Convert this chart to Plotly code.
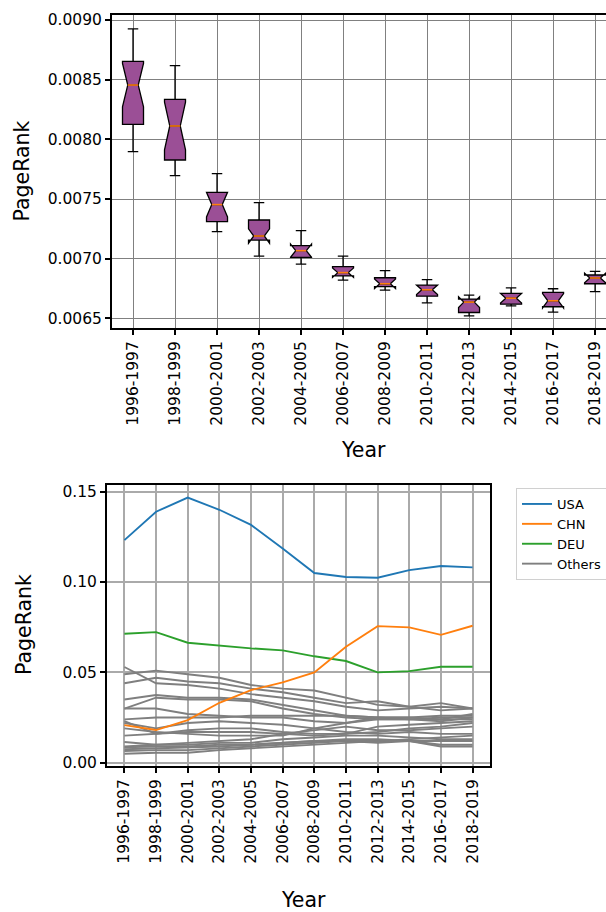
import plotly.graph_objects as go

periods = ["1996-1997", "1998-1999", "2000-2001", "2002-2003", "2004-2005", "2006-2007",
           "2008-2009", "2010-2011", "2012-2013", "2014-2015", "2016-2017", "2018-2019"]

# --- top: PageRank distribution per period (box statistics)
box_upper = [0.008925, 0.008617, 0.007712, 0.007469, 0.007235, 0.007022,
             0.006899, 0.006824, 0.006695, 0.006756, 0.006748, 0.006894]
box_q3 = [0.008654, 0.008335, 0.007556, 0.007324, 0.007109, 0.006933,
          0.006840, 0.006779, 0.006661, 0.006709, 0.006717, 0.006863]
box_median = [0.008455, 0.008112, 0.007453, 0.007190, 0.007067, 0.006883,
              0.006790, 0.006739, 0.006636, 0.006669, 0.006647, 0.006838]
box_q1 = [0.008126, 0.007827, 0.007310, 0.007156, 0.007011, 0.006855,
          0.006765, 0.006686, 0.006549, 0.006619, 0.006597, 0.006790]
box_lower = [0.007897, 0.007696, 0.007226, 0.007022, 0.006955, 0.006821,
             0.006737, 0.006630, 0.006521, 0.006605, 0.006552, 0.006723]
box_notch = [0.000182, 0.000200, 0.000103, 0.000060, 0.000055, 0.000040,
             0.000040, 0.000040, 0.000045, 0.000040, 0.000060, 0.000040]

# --- bottom: PageRank per country
usa = [0.1232, 0.1389, 0.1467, 0.1400, 0.1316, 0.1186, 0.1050, 0.1028, 0.1024, 0.1066, 0.1089, 0.1081]
chn = [0.0208, 0.0181, 0.0236, 0.0332, 0.0402, 0.0445, 0.0500, 0.0642, 0.0756, 0.0749, 0.0708, 0.0758]
deu = [0.0714, 0.0723, 0.0664, 0.0648, 0.0633, 0.0622, 0.0589, 0.0563, 0.0500, 0.0507, 0.0531, 0.0531]
others = [
    [0.053, 0.044, 0.043, 0.041, 0.038, 0.036, 0.034, 0.031, 0.029, 0.030, 0.031, 0.030],
    [0.049, 0.051, 0.049, 0.047, 0.043, 0.041, 0.040, 0.036, 0.032, 0.031, 0.029, 0.030],
    [0.044, 0.047, 0.045, 0.044, 0.041, 0.039, 0.036, 0.033, 0.034, 0.031, 0.033, 0.030],
    [0.035, 0.0375, 0.036, 0.036, 0.035, 0.032, 0.029, 0.026, 0.025, 0.025, 0.026, 0.026],
    [0.030, 0.036, 0.035, 0.035, 0.034, 0.030, 0.027, 0.025, 0.024, 0.024, 0.025, 0.025],
    [0.030, 0.030, 0.027, 0.026, 0.025, 0.025, 0.023, 0.022, 0.025, 0.024, 0.023, 0.025],
    [0.024, 0.025, 0.025, 0.025, 0.026, 0.026, 0.026, 0.026, 0.025, 0.025, 0.024, 0.024],
    [0.022, 0.019, 0.022, 0.023, 0.022, 0.021, 0.019, 0.017, 0.016, 0.017, 0.016, 0.016],
    [0.023, 0.016, 0.018, 0.019, 0.019, 0.017, 0.016, 0.016, 0.017, 0.019, 0.020, 0.022],
    [0.019, 0.017, 0.016, 0.015, 0.015, 0.015, 0.019, 0.022, 0.024, 0.024, 0.024, 0.027],
    [0.015, 0.016, 0.017, 0.017, 0.017, 0.016, 0.015, 0.016, 0.020, 0.021, 0.022, 0.023],
    [0.0115, 0.010, 0.011, 0.012, 0.013, 0.016, 0.018, 0.020, 0.018, 0.018, 0.019, 0.020],
    [0.009, 0.010, 0.010, 0.011, 0.011, 0.013, 0.014, 0.015, 0.015, 0.014, 0.013, 0.013],
    [0.0085, 0.009, 0.009, 0.010, 0.010, 0.011, 0.012, 0.012, 0.011, 0.012, 0.012, 0.012],
    [0.0075, 0.008, 0.0085, 0.009, 0.010, 0.011, 0.012, 0.013, 0.013, 0.012, 0.009, 0.009],
    [0.0065, 0.007, 0.007, 0.008, 0.009, 0.010, 0.011, 0.012, 0.012, 0.012, 0.010, 0.010],
    [0.005, 0.0055, 0.0055, 0.007, 0.008, 0.009, 0.010, 0.011, 0.012, 0.013, 0.014, 0.015],
]

top_yticks = [0.0065, 0.0070, 0.0075, 0.0080, 0.0085, 0.0090]
bot_yticks = [0.00, 0.05, 0.10, 0.15]

W, H = 606, 912
FONT = "DejaVu Sans"
idx = list(range(len(periods)))

fig = go.Figure()

# boxes
fig.add_trace(go.Box(
    x=idx, q1=box_q1, median=box_median, q3=box_q3,
    lowerfence=box_lower, upperfence=box_upper, notchspan=box_notch,
    notched=True, notchwidth=0.25, width=0.5, whiskerwidth=0.5,
    fillcolor="#9b4f96", line=dict(color="black", width=1.3),
    boxpoints=False, showlegend=False, hoverinfo="skip",
    xaxis="x", yaxis="y",
))
# orange median lines
mx, my = [], []
for i, m in zip(idx, box_median):
    mx += [i - 0.125, i + 0.125, None]
    my += [m, m, None]
fig.add_trace(go.Scatter(x=mx, y=my, mode="lines", line=dict(color="#ff7f0e", width=1.6),
                         showlegend=False, hoverinfo="skip", xaxis="x", yaxis="y"))

# bottom lines
for k, g in enumerate(others):
    fig.add_trace(go.Scatter(x=idx, y=g, mode="lines", line=dict(color="#7f7f7f", width=1.9),
                             name="Others", legendgroup="others", showlegend=(k == 0),
                             legendrank=4, xaxis="x2", yaxis="y2"))
for name, vals, col, rk in [("DEU", deu, "#2ca02c", 3), ("CHN", chn, "#ff7f0e", 2), ("USA", usa, "#1f77b4", 1)]:
    fig.add_trace(go.Scatter(x=idx, y=vals, mode="lines", line=dict(color=col, width=1.9),
                             name=name, legendrank=rk, xaxis="x2", yaxis="y2"))

def px_x(p):
    return p / W

def px_y(p):
    return (H - p) / H

tickfont = dict(family=FONT, size=15.5, color="black")
common = dict(showline=True, linecolor="black", linewidth=2,
              ticks="outside", ticklen=5, tickwidth=1.5, tickcolor="black",
              zeroline=False, automargin=False, tickfont=tickfont, tickmode="array")

fig.update_layout(
    width=W, height=H,
    margin=dict(l=0, r=0, t=0, b=0, autoexpand=False),
    paper_bgcolor="white", plot_bgcolor="white",
    font=dict(family=FONT, color="black"),
    xaxis=dict(domain=[px_x(112), 1.0], range=[-0.5, 11.26],
               tickvals=idx, ticktext=periods, tickangle=-90,
               showgrid=True, gridcolor="#808080", gridwidth=1.1,
               mirror=True, anchor="y", **common),
    yaxis=dict(domain=[px_y(328), px_y(15)], range=[0.006419, 0.009042],
               tickvals=top_yticks, tickformat=".4f",
               showgrid=True, gridcolor="#808080", gridwidth=1.1,
               mirror=False, anchor="x", **common),
    xaxis2=dict(domain=[px_x(107), px_x(490)], range=[-0.55, 11.55],
                tickvals=idx, ticktext=periods, tickangle=-90,
                showgrid=True, gridcolor="#aaaaaa", gridwidth=1.8,
                mirror=True, anchor="y2", **common),
    yaxis2=dict(domain=[px_y(766), px_y(485)], range=[-0.0018, 0.1537],
                tickvals=bot_yticks, tickformat=".2f",
                showgrid=True, gridcolor="#aaaaaa", gridwidth=1.8,
                mirror=True, anchor="x2", **common),
    legend=dict(x=px_x(516), y=px_y(488), xanchor="left", yanchor="top",
                bgcolor="white", bordercolor="#d0d0d0", borderwidth=1,
                font=dict(family=FONT, size=13, color="black"),
                tracegroupgap=0, traceorder="normal", itemwidth=30),
)

lab = dict(family=FONT, size=20.5, color="black")
fig.add_annotation(text="PageRank", x=px_x(21), y=px_y(171.5), xref="paper", yref="paper",
                   textangle=-90, showarrow=False, font=lab, xanchor="center", yanchor="middle")
fig.add_annotation(text="Year", x=px_x(363), y=px_y(450), xref="paper", yref="paper",
                   showarrow=False, font=lab, xanchor="center", yanchor="middle")
fig.add_annotation(text="PageRank", x=px_x(24), y=px_y(625), xref="paper", yref="paper",
                   textangle=-90, showarrow=False, font=lab, xanchor="center", yanchor="middle")
fig.add_annotation(text="Year", x=px_x(303), y=px_y(900), xref="paper", yref="paper",
                   showarrow=False, font=lab, xanchor="center", yanchor="middle")

fig.write_html("out.html", config={"displayModeBar": False},
               post_script="document.body.style.margin='0';document.body.style.overflow='hidden';")
